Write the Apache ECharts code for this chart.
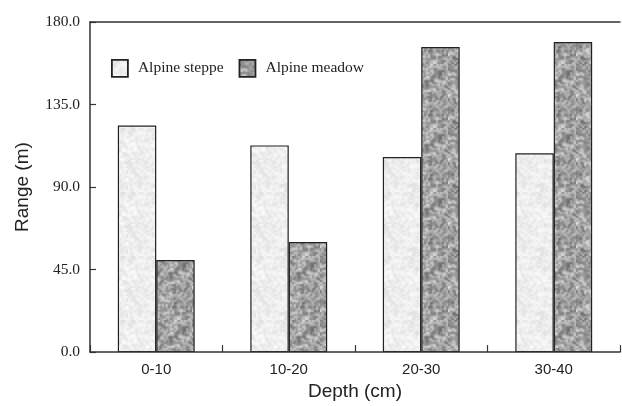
<!DOCTYPE html>
<html>
<head>
<meta charset="utf-8">
<style>html,body{margin:0;padding:0;background:#fff;}#c{width:622px;height:406px;}</style>
<script src="https://cdn.jsdelivr.net/npm/echarts@6/dist/echarts.min.js"></script>
</head>
<body>
<div id="c"></div>
<script>
var categories = ['0-10', '10-20', '20-30', '30-40'];
var steppe = [123.5, 112.7, 106.4, 108.4];
var meadow = [50.2, 60.0, 166.4, 169.1];
var seriesNames = ['Alpine steppe', 'Alpine meadow'];

function mulberry32(a){return function(){a|=0;a=a+0x6D2B79F5|0;var t=Math.imul(a^a>>>15,1|a);t=t+Math.imul(t^t>>>7,61|t)^t;return((t^t>>>14)>>>0)/4294967296;};}
function texture(seed, base, spread, size){
  var rnd = mulberry32(seed);
  var out = document.createElement('canvas'); out.width = size; out.height = size;
  var ctx = out.getContext('2d');
  ctx.fillStyle = 'rgb(' + base + ',' + base + ',' + base + ')';
  ctx.fillRect(0,0,size,size);
  [[size/4, 0.9],[size/2, 0.6]].forEach(function(l){
    var n = l[0];
    var s = document.createElement('canvas'); s.width = n; s.height = n;
    var sc = s.getContext('2d'); var img = sc.createImageData(n, n);
    for (var i = 0; i < n*n; i++){
      var v = Math.max(0, Math.min(255, Math.round(base + (rnd()-0.5)*2*spread)));
      img.data[i*4]=v; img.data[i*4+1]=v; img.data[i*4+2]=v; img.data[i*4+3]=255;
    }
    sc.putImageData(img,0,0);
    ctx.globalAlpha = l[1];
    ctx.imageSmoothingEnabled = true;
    ctx.drawImage(s, 0, 0, size, size);
  });
  ctx.globalAlpha = 1;
  return out;
}
var texSteppe = texture(7, 238, 22, 64);
var texMeadow = texture(11, 165, 75, 64);

var chart = echarts.init(document.getElementById('c'));
chart.setOption({
  animation: false,
  grid: {left: 90, right: 2, top: 22, bottom: 53},
  legend: {
    left: 111, top: 59, padding: 0, itemWidth: 16, itemHeight: 17, itemGap: 15,
    icon: 'rect',
    itemStyle: {borderColor: '#222', borderWidth: 1.8},
    textStyle: {fontFamily: 'Liberation Serif', fontSize: 15.5, color: '#222', padding: [0,0,0,5]},
    data: seriesNames
  },
  xAxis: [{
    type: 'category', data: categories, position: 'bottom', z: 10,
    axisLine: {lineStyle: {color: '#333', width: 1.5}},
    axisTick: {show: true, inside: true, length: 7, interval: 0, lineStyle: {color: '#333', width: 1.2}},
    axisLabel: {fontFamily: 'Liberation Sans', fontSize: 15, color: '#222', margin: 10},
    name: 'Depth (cm)', nameLocation: 'middle', nameGap: 29,
    nameTextStyle: {fontFamily: 'Liberation Sans', fontSize: 19, color: '#222'}
  }, {
    type: 'category', data: categories, position: 'top',
    axisLine: {show: true, lineStyle: {color: '#333', width: 1.5}},
    axisTick: {show: false}, axisLabel: {show: false}
  }],
  yAxis: {
    type: 'value', min: 0, max: 180, interval: 45, z: 10,
    axisLine: {show: true, lineStyle: {color: '#333', width: 1.5}},
    axisTick: {show: true, inside: true, length: 6, lineStyle: {color: '#333', width: 1.2}},
    splitLine: {show: false},
    axisLabel: {fontFamily: 'Liberation Serif', fontSize: 15.5, color: '#222', margin: 10,
      formatter: function(v){return v.toFixed(1);}},
    name: 'Range (m)', nameLocation: 'middle', nameGap: 58,
    nameTextStyle: {fontFamily: 'Liberation Sans', fontSize: 19, color: '#222'}
  },
  series: [{
    name: seriesNames[0], type: 'bar', data: steppe,
    barGap: '0%', barCategoryGap: '42%',
    itemStyle: {color: {image: texSteppe, repeat: 'repeat'}, borderColor: '#222', borderWidth: 1.2}
  }, {
    name: seriesNames[1], type: 'bar', data: meadow,
    itemStyle: {color: {image: texMeadow, repeat: 'repeat'}, borderColor: '#222', borderWidth: 1.2}
  }]
});
</script>
</body>
</html>
